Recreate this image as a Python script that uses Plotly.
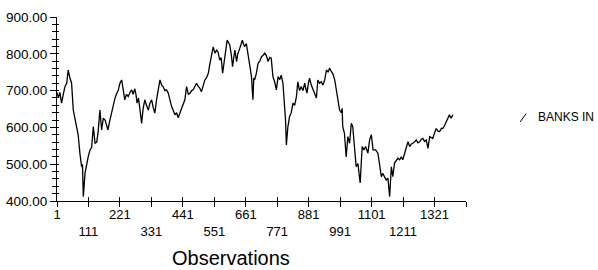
import plotly.graph_objects as go

obs = [1, 6, 11, 17, 23, 29, 35, 40, 46, 52, 58, 64, 70, 75, 81, 87, 90, 93, 99, 105,
       110, 116, 122, 128, 134, 140, 145, 151, 157, 163, 169, 175, 179, 186, 192, 198,
       204, 210, 215, 221, 227, 233, 238, 244, 250, 256, 262, 267, 273, 277, 281, 286,
       291, 297, 302, 308, 314, 320, 326, 332, 337, 343, 349, 355, 361, 367, 372, 378,
       384, 390, 396, 402, 408, 413, 419, 425, 431, 437, 442, 448, 454, 460, 466, 472,
       477, 483, 489, 494, 500, 506, 512, 518, 524, 530, 535, 541, 547, 553, 559, 564,
       570, 575, 580, 584, 588, 591, 596, 601, 605, 610, 615, 619, 623, 629, 633, 638,
       644, 649, 654, 657, 663, 669, 675, 681, 684, 686, 689, 692, 698, 704, 710, 716,
       721, 727, 733, 739, 745, 750, 756, 762, 768, 774, 780, 785, 791, 797, 800, 803,
       808, 814, 820, 826, 832, 838, 843, 849, 855, 861, 867, 871, 875, 880, 884, 890,
       896, 902, 908, 913, 919, 925, 931, 937, 943, 949, 954, 960, 966, 972, 978, 983,
       989, 995, 998, 1000, 1006, 1012, 1018, 1024, 1030, 1035, 1041, 1047, 1053, 1061,
       1068, 1074, 1080, 1088, 1094, 1100, 1106, 1115, 1123, 1129, 1135, 1140, 1146,
       1152, 1158, 1164, 1170, 1175, 1181, 1187, 1193, 1199, 1205, 1210, 1216, 1222,
       1228, 1234, 1240, 1245, 1251, 1257, 1263, 1269, 1275, 1280, 1286, 1292, 1298,
       1304, 1310, 1315, 1321, 1327, 1333, 1339, 1345, 1350, 1356, 1362, 1368, 1373,
       1379, 1385]

banks_in = [695, 680, 695, 666, 690, 711, 720, 756, 735, 720, 647, 625, 602, 580, 530,
            493, 500, 412, 476, 503, 520, 538, 545, 602, 557, 560, 590, 647, 593, 625,
            620, 605, 593, 620, 640, 666, 680, 693, 700, 720, 729, 700, 675, 690, 684,
            695, 702, 690, 705, 690, 666, 680, 647, 611, 650, 675, 660, 647, 666, 675,
            655, 639, 675, 702, 729, 715, 711, 700, 702, 693, 670, 656, 645, 634, 640,
            626, 640, 652, 660, 675, 711, 690, 693, 700, 702, 710, 720, 712, 707, 697,
            715, 729, 735, 747, 770, 792, 819, 802, 810, 805, 783, 790, 747, 770, 792,
            820, 837, 830, 824, 800, 765, 790, 810, 779, 800, 810, 825, 837, 825, 819,
            828, 800, 774, 738, 700, 675, 734, 729, 747, 774, 780, 792, 795, 802, 795,
            779, 790, 788, 738, 724, 702, 738, 730, 742, 720, 666, 620, 552, 600, 629,
            640, 666, 660, 683, 724, 700, 711, 700, 720, 705, 693, 720, 734, 715, 702,
            690, 680, 729, 720, 724, 715, 729, 756, 750, 761, 752, 745, 729, 700, 675,
            647, 640, 652, 602, 584, 520, 575, 557, 611, 602, 548, 493, 502, 449, 548,
            539, 548, 530, 566, 580, 539, 539, 530, 493, 466, 475, 466, 457, 462, 412,
            493, 466, 503, 510, 516, 512, 520, 512, 530, 545, 561, 548, 555, 557, 560,
            566, 558, 561, 568, 570, 562, 566, 543, 575, 572, 570, 585, 597, 590, 589,
            598, 597, 605, 616, 625, 634, 625, 634]

x_tick_vals = [1, 111, 221, 331, 441, 551, 661, 771, 881, 991, 1101, 1211, 1321, 1431]
x_tick_text = ["1", "<br>111", "221", "<br>331", "441", "<br>551", "661", "<br>771",
               "881", "<br>991", "1101", "<br>1211", "1321", ""]
y_tick_vals = [400, 500, 600, 700, 800, 900]

series_name = "BANKS IN"
x_title = "Observations"

FONT = "Liberation Sans, Arial, sans-serif"

fig = go.Figure()
fig.add_trace(go.Scatter(x=obs, y=banks_in, mode="lines", name=series_name,
                         line=dict(color="black", width=1.3), showlegend=False))
# invisible trace on overlay axes so they render
fig.add_trace(go.Scatter(x=[obs[0]], y=[banks_in[0]], xaxis="x2", yaxis="y2",
                         mode="markers", marker=dict(opacity=0), showlegend=False,
                         hoverinfo="skip"))

fig.update_layout(
    width=598, height=270,
    margin=dict(l=57, r=132, t=17, b=69, autoexpand=False),
    paper_bgcolor="white", plot_bgcolor="white",
    font=dict(family=FONT, color="black", size=13),
    xaxis=dict(range=[1, 1431], tickmode="array", tickvals=x_tick_vals,
               ticktext=x_tick_text, ticks="outside", ticklen=5, tickcolor="black",
               showline=True, linecolor="black", linewidth=1, showgrid=False,
               zeroline=False, tickfont=dict(size=13), tickangle=0, automargin=False,
               ticklabelstandoff=-4),
    yaxis=dict(range=[400, 900], tickmode="array", tickvals=y_tick_vals,
               tickformat=".2f", ticks="outside", ticklen=6, tickcolor="black",
               showline=True, linecolor="black", linewidth=1, showgrid=False,
               zeroline=False, tickfont=dict(size=13.5), automargin=False,
               minor=dict(dtick=20, ticks="outside", ticklen=4, tickcolor="black",
                          showgrid=False)),
    xaxis2=dict(range=[1, 1431], overlaying="x", side="bottom", anchor="y",
                tickmode="array", tickvals=x_tick_vals, showticklabels=False,
                ticks="inside", ticklen=4, tickcolor="black", showgrid=False,
                zeroline=False, showline=False),
    yaxis2=dict(range=[400, 900], overlaying="y", side="left", anchor="x",
                tickmode="array", tickvals=y_tick_vals, showticklabels=False,
                ticks="inside", ticklen=2, tickcolor="black", showgrid=False,
                zeroline=False, showline=False,
                minor=dict(dtick=20, ticks="inside", ticklen=2, tickcolor="black",
                           showgrid=False)),
    showlegend=False,
)

fig.add_annotation(text=x_title, xref="paper", yref="paper", x=0.4254, y=-0.31,
                   showarrow=False, font=dict(size=20, family=FONT, color="black"),
                   xanchor="center", yanchor="middle")
fig.add_annotation(text=series_name, xref="paper", yref="paper", x=1.17, y=0.4565,
                   showarrow=False, font=dict(size=12, family=FONT, color="black"),
                   xanchor="left", yanchor="middle")
fig.add_shape(type="line", xref="paper", yref="paper", x0=1.1325, y0=0.43,
              x1=1.147, y1=0.475, line=dict(color="black", width=1))

fig.write_html("out.html", config={"displayModeBar": False},
               post_script="document.body.style.margin='0';document.body.style.padding='0';")
